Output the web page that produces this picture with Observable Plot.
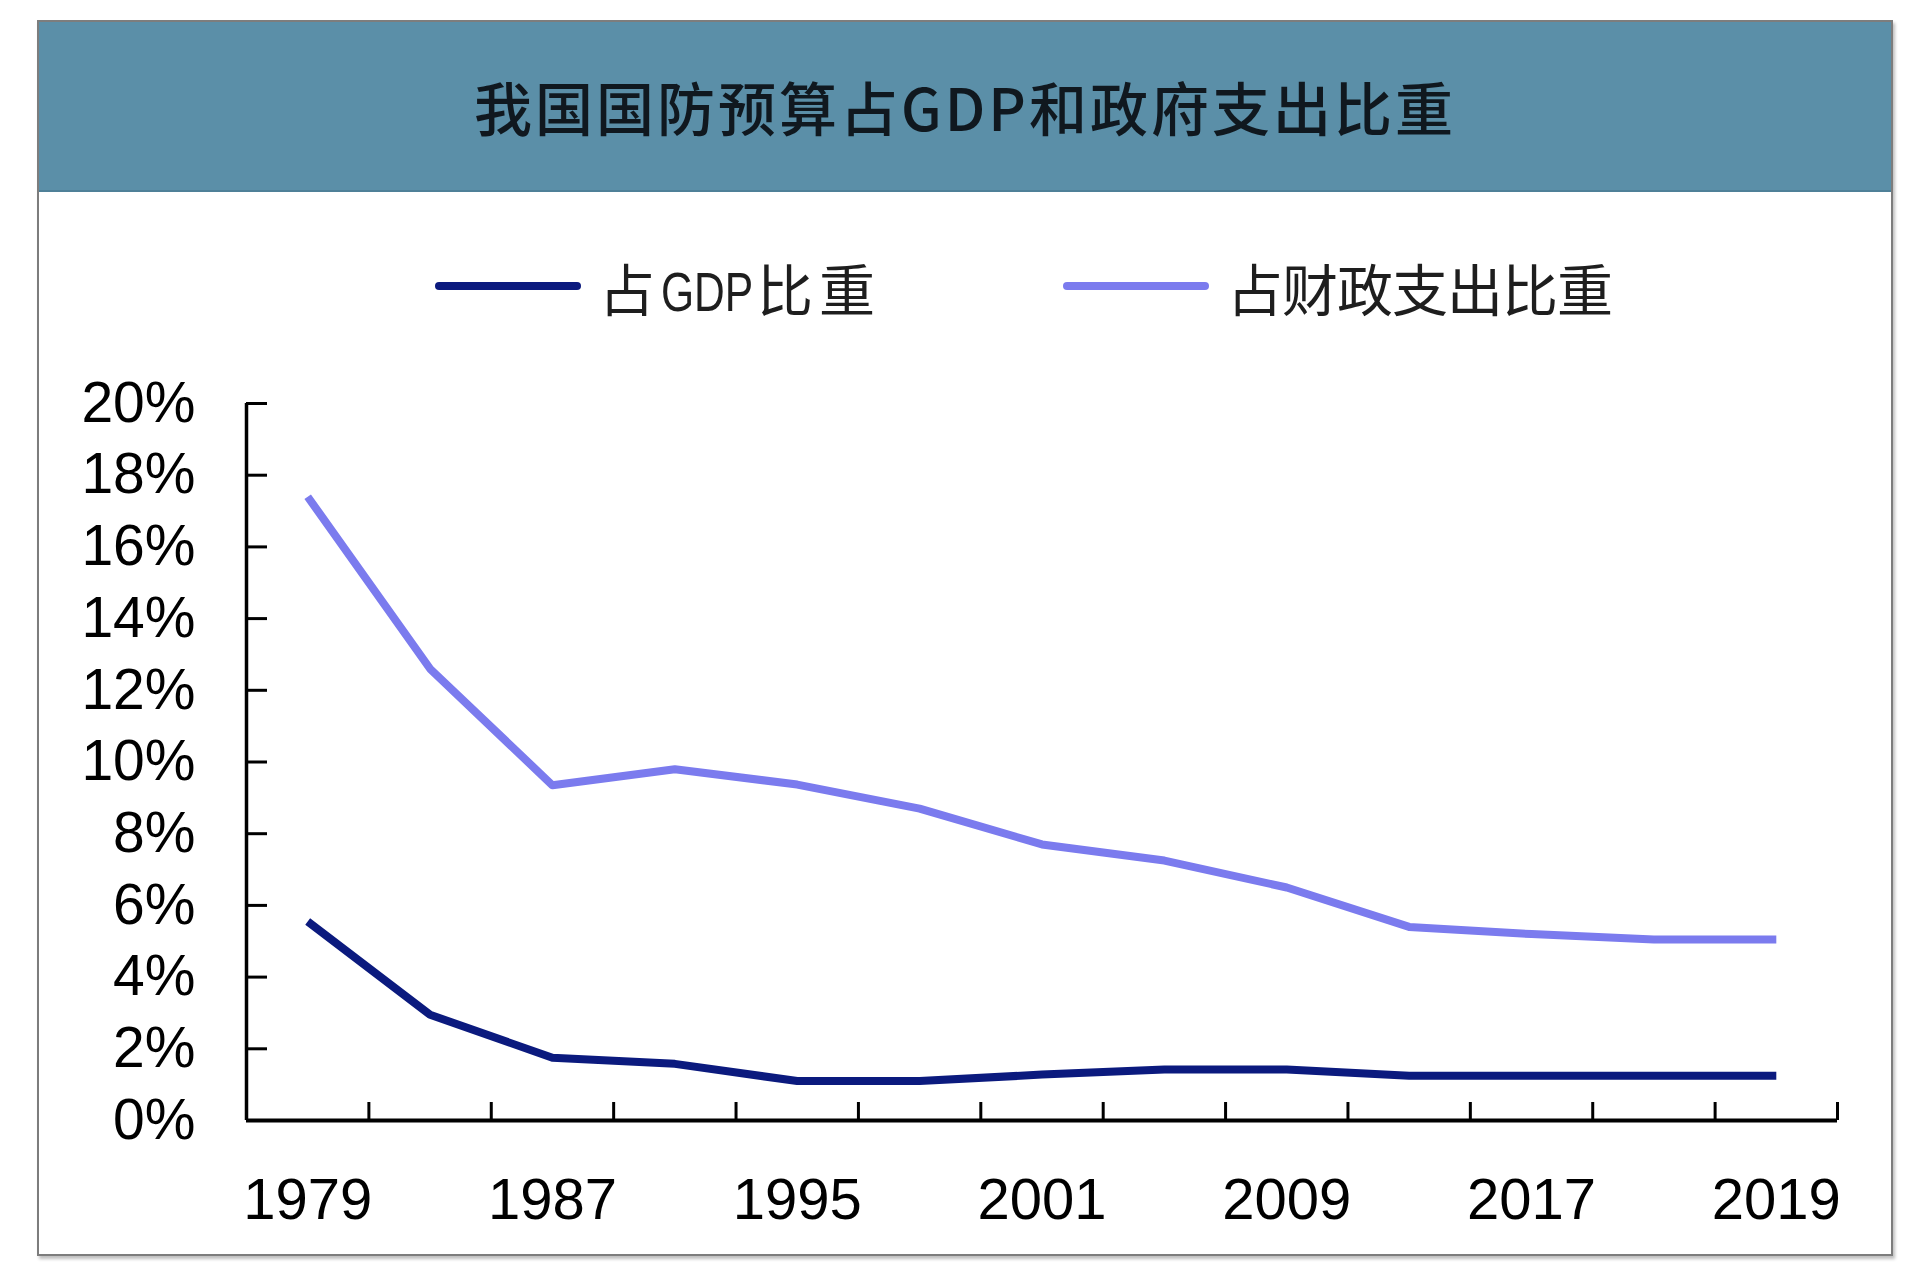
<!DOCTYPE html>
<html>
<head>
<meta charset="utf-8">
<script src="https://cdn.jsdelivr.net/npm/d3@7"></script>
<script src="https://cdn.jsdelivr.net/npm/@observablehq/plot@0.6"></script>
<style>
  html, body { margin: 0; padding: 0; background: #fff; }
  body { width: 1930px; height: 1280px; position: relative; overflow: hidden; }
  #frame { position: absolute; left: 37px; top: 20px; width: 1852px; height: 1232px;
           border: 2px solid #7d7d7d; box-shadow: 2px 3px 3px rgba(0,0,0,0.25); background: #fff; }
  #header { position: absolute; left: 0; top: 0; width: 100%; height: 168px; background: #5b8fa8;
            border-bottom: 2px solid #4f8098;
            display: flex; align-items: center; justify-content: center;
            font-family: "Noto Sans CJK SC", sans-serif; font-weight: 500; font-size: 58px;
            letter-spacing: 3px; color: #10181f; }
  #legend { position: absolute; left: 0; top: 217px; width: 100%; height: 94px; }
  .item { position: absolute; top: 0; height: 94px; display: flex; align-items: center; white-space: nowrap; }
  .swatch { width: 146px; height: 8px; border-radius: 4px; margin-right: 18px; flex: none; }
  .label { font-family: "Noto Sans CJK SC", sans-serif; font-size: 56px; color: #1e1e1e; }
  .latin { display: inline-block; font-family: "Liberation Sans", Arial, sans-serif; letter-spacing: 0;
           width: 96px; transform: scaleX(0.76); transform-origin: left center; }
  #chart { position: absolute; left: 0; top: 308px; }
</style>
</head>
<body>
<div id="frame">
  <div id="header"></div>
  <div id="legend"></div>
  <div id="chart"></div>
</div>
<script>
const title = "我国国防预算占GDP和政府支出比重";
const categories = ["1979","1983","1987","1991","1995","1998","2001","2005","2009","2013","2017","2018","2019"];
const labeledIndex = [0, 2, 4, 6, 8, 10, 12];
const gdpShare    = [5.55, 2.95, 1.75, 1.58, 1.10, 1.10, 1.28, 1.42, 1.42, 1.25, 1.25, 1.25, 1.25];
const fiscalShare = [17.4, 12.6, 9.35, 9.80, 9.37, 8.70, 7.70, 7.25, 6.50, 5.40, 5.20, 5.05, 5.05];
const seriesNames = ["占GDP比重", "占财政支出比重"];
const seriesColors = ["#0b1a7e", "#7b7bee"];
const yTicks = [0, 2, 4, 6, 8, 10, 12, 14, 16, 18, 20];

document.getElementById("header").textContent = title;

// legend
const legendLeft = [396, 1024];
const legendSpacing = [6, -1];
const legend = document.getElementById("legend");
seriesNames.forEach((name, k) => {
  const item = document.createElement("div");
  item.className = "item";
  item.style.left = legendLeft[k] + "px";
  const sw = document.createElement("div");
  sw.className = "swatch";
  sw.style.background = seriesColors[k];
  const lb = document.createElement("span");
  lb.className = "label";
  lb.style.letterSpacing = legendSpacing[k] + "px";
  name.split(/([A-Za-z]+)/).forEach(part => {
    if (!part) return;
    if (/^[A-Za-z]+$/.test(part)) {
      const s = document.createElement("span");
      s.className = "latin";
      s.textContent = part;
      lb.appendChild(s);
    } else {
      lb.appendChild(document.createTextNode(part));
    }
  });
  item.appendChild(sw); item.appendChild(lb);
  legend.appendChild(item);
});

const data = [];
categories.forEach((c, i) => {
  data.push({i, year: c, series: seriesNames[0], value: gdpShare[i]});
  data.push({i, year: c, series: seriesNames[1], value: fiscalShare[i]});
});
const boundaries = d3.range(categories.length + 1).map(k => k - 0.5);

const W = 1852, H = 924;
const mL = 207, mR = 54, mT = 73, mB = 134;
const plotW = W - mL - mR, plotH = H - mT - mB;

const chart = Plot.plot({
  width: W, height: H,
  marginLeft: mL, marginRight: mR, marginTop: mT, marginBottom: mB,
  style: { fontFamily: "Liberation Sans, Arial, sans-serif", fontSize: "57px", color: "#000", background: "transparent" },
  x: { type: "linear", domain: [-0.5, categories.length - 0.5], axis: null },
  y: { domain: [0, 20], axis: null },
  color: { domain: seriesNames, range: seriesColors },
  marks: [
    Plot.axisY({ ticks: yTicks, tickSize: 0, tickPadding: 51, tickFormat: d => d + "%", fontSize: 57, label: null }),
    Plot.gridY(yTicks, { stroke: "#000", strokeOpacity: 1, strokeWidth: 3, insetRight: plotW - 21 }),
    Plot.axisX({ ticks: labeledIndex, tickSize: 0, tickPadding: 57, tickFormat: i => categories[i], fontSize: 58, label: null }),
    Plot.gridX(boundaries, { stroke: "#000", strokeOpacity: 1, strokeWidth: 3, insetTop: plotH - 18 }),
    Plot.ruleX([-0.5], { stroke: "#000", strokeWidth: 3.5 }),
    Plot.ruleY([0], { stroke: "#000", strokeWidth: 4 }),
    Plot.line(data, { x: "i", y: "value", z: "series", stroke: "series", strokeWidth: 8, strokeLinejoin: "round", strokeLinecap: "butt" })
  ]
});
document.getElementById("chart").appendChild(chart);
</script>
</body>
</html>
